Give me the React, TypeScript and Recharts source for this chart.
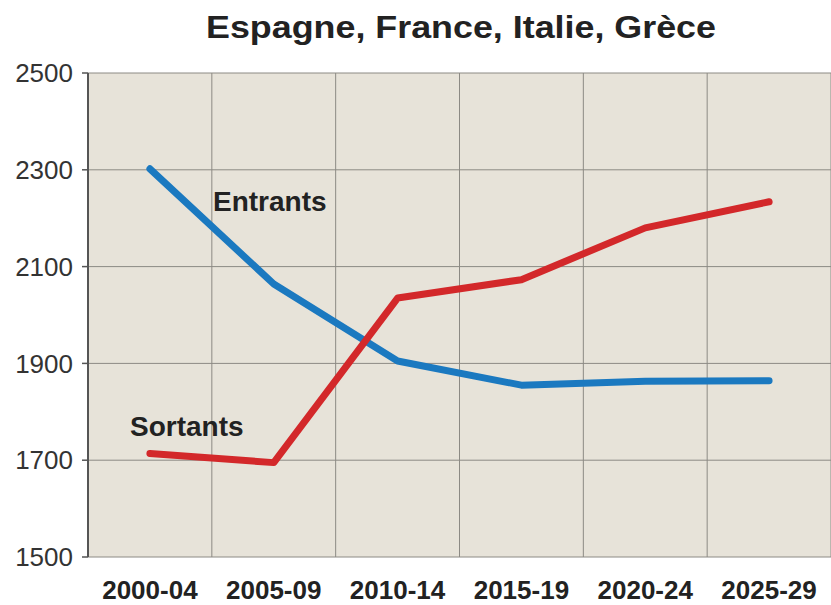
import React from 'react';
import { LineChart, Line, XAxis, YAxis, CartesianGrid } from 'recharts';

const periods = ['2000-04', '2005-09', '2010-14', '2015-19', '2020-24', '2025-29'];
const entrants = [2302, 2064, 1905, 1855, 1863, 1864];
const sortants = [1714, 1695, 2035, 2073, 2180, 2234];
const yTicks = [1500, 1700, 1900, 2100, 2300, 2500];

const data = periods.map((p, i) => ({ i, period: p, entrants: entrants[i], sortants: sortants[i] }));
const centerTicks = periods.map((_, i) => i);
const edgeTicks = periods.map((_, i) => i + 0.5);

const font = 'Arial, "Liberation Sans", Helvetica, sans-serif';

const labelStyle: React.CSSProperties = {
  position: 'absolute',
  fontFamily: font,
  fontWeight: 'bold',
  color: '#222',
  whiteSpace: 'nowrap',
};

export default function App() {
  return (
    <div style={{ position: 'absolute', left: 0, top: 0, width: 831, height: 605, background: '#fff' }}>
      <LineChart width={831} height={605} data={data} margin={{ top: 73, right: 0, left: 0, bottom: 0 }}>
        <CartesianGrid xAxisId="grid" fill="#e7e3d9" stroke="#8c8a84" strokeWidth={1} />
        <XAxis
          xAxisId="grid"
          type="number"
          dataKey="i"
          domain={[-0.5, 5.5]}
          ticks={edgeTicks}
          allowDataOverflow
          height={0}
          tickSize={7}
          tickFormatter={() => ''}
          axisLine={{ stroke: '#555', strokeWidth: 2 }}
          tickLine={{ stroke: '#555', strokeWidth: 1.5 }}
        />
        <XAxis
          type="number"
          dataKey="i"
          domain={[-0.5, 5.5]}
          ticks={centerTicks}
          allowDataOverflow
          height={48}
          axisLine={false}
          tickLine={false}
          tickSize={0}
          tickMargin={24}
          tickFormatter={(v: number) => periods[v]}
          tick={{ fontSize: 26, fontWeight: 'bold', fill: '#222', fontFamily: font }}
        />
        <YAxis
          width={88}
          domain={[1500, 2500]}
          ticks={yTicks}
          allowDataOverflow
          tickSize={6}
          tickMargin={9}
          axisLine={{ stroke: '#555', strokeWidth: 2 }}
          tickLine={{ stroke: '#555', strokeWidth: 1.5 }}
          tick={{ fontSize: 26, fill: '#333', fontFamily: font }}
        />
        <Line
          dataKey="entrants"
          type="linear"
          stroke="#1b79c0"
          strokeWidth={7}
          strokeLinecap="round"
          strokeLinejoin="round"
          dot={false}
          isAnimationActive={false}
        />
        <Line
          dataKey="sortants"
          type="linear"
          stroke="#d3282a"
          strokeWidth={7}
          strokeLinecap="round"
          strokeLinejoin="round"
          dot={false}
          isAnimationActive={false}
        />
      </LineChart>
      <div
        style={{
          ...labelStyle,
          left: 0,
          width: 922,
          top: 11,
          fontSize: 32,
          lineHeight: '32px',
          textAlign: 'center',
          transform: 'scaleX(1.12)',
          transformOrigin: '461px 0',
        }}
      >
        Espagne, France, Italie, Grèce
      </div>
      <div style={{ ...labelStyle, left: 213, top: 188, fontSize: 28, lineHeight: '28px' }}>Entrants</div>
      <div style={{ ...labelStyle, left: 130, top: 413, fontSize: 28, lineHeight: '28px' }}>Sortants</div>
    </div>
  );
}
